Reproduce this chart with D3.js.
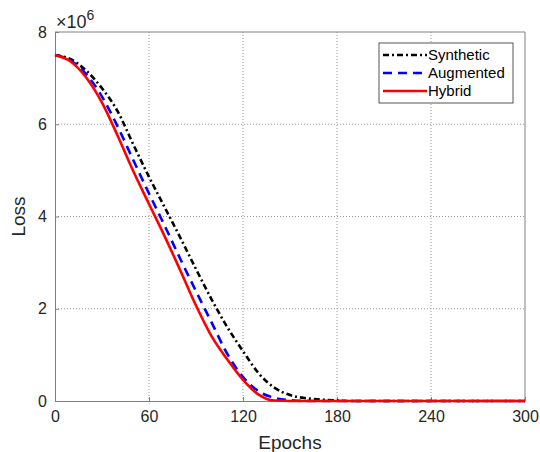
<!DOCTYPE html>
<html>
<head>
<meta charset="utf-8">
<script src="https://cdn.jsdelivr.net/npm/d3@7"></script>
<style>
  body { margin: 0; background: #fff; }
  text { font-family: "Liberation Sans", Arial, sans-serif; }
</style>
</head>
<body>
<div id="chart"></div>
<script>
// epochs sampled every 10
const epochs = d3.range(0, 301, 10);
const synthetic = [7.50, 7.41, 7.16, 6.78, 6.28, 5.56, 4.86, 4.20, 3.54, 2.86, 2.20, 1.60, 1.08, 0.60, 0.29, 0.13, 0.06, 0.03, 0.01, 0, 0, 0, 0, 0, 0, 0, 0, 0, 0, 0, 0];
const augmented = [7.50, 7.38, 7.08, 6.60, 5.95, 5.22, 4.50, 3.80, 3.08, 2.38, 1.70, 1.02, 0.52, 0.21, 0.07, 0.02, 0, 0, 0, 0, 0, 0, 0, 0, 0, 0, 0, 0, 0, 0, 0];
const hybrid = [7.50, 7.36, 7.01, 6.47, 5.75, 4.98, 4.27, 3.57, 2.83, 2.07, 1.40, 0.90, 0.46, 0.14, 0.01, 0, 0, 0, 0, 0, 0, 0, 0, 0, 0, 0, 0, 0, 0, 0, 0];
const xTicks = [0, 60, 120, 180, 240, 300];
const yTicks = [0, 2, 4, 6, 8];

const series = [
    {name: "Synthetic", values: synthetic, color: "#000000", dash: "6,3,2,3"},
    {name: "Augmented", values: augmented, color: "#0000ff", dash: "9,6"},
    {name: "Hybrid", values: hybrid, color: "#ff0000", dash: null}
];

const margin = {top: 32, right: 15, bottom: 51, left: 55},
    width = 540 - margin.left - margin.right,
    height = 452 - margin.top - margin.bottom;

const svg = d3.select("#chart")
    .append("svg")
    .attr("width", 540)
    .attr("height", 452)
    .append("g")
    .attr("transform", `translate(${margin.left},${margin.top})`);

const x = d3.scaleLinear().domain([0, 300]).range([0, width]);
const y = d3.scaleLinear().domain([0, 8]).range([height, 0]);

// grid
svg.append("g")
    .selectAll("line")
    .data(xTicks.slice(1, -1))
    .enter()
    .append("line")
    .attr("x1", d => x(d)).attr("x2", d => x(d))
    .attr("y1", 0).attr("y2", height)
    .attr("stroke", "#9a9a9a")
    .attr("stroke-width", 1)
    .attr("stroke-dasharray", "1,2");

svg.append("g")
    .selectAll("line")
    .data(yTicks.slice(1, -1))
    .enter()
    .append("line")
    .attr("x1", 0).attr("x2", width)
    .attr("y1", d => y(d)).attr("y2", d => y(d))
    .attr("stroke", "#9a9a9a")
    .attr("stroke-width", 1)
    .attr("stroke-dasharray", "1,2");

// axes
const xAxis = svg.append("g")
    .attr("transform", `translate(0,${height})`)
    .call(d3.axisBottom(x).tickValues(xTicks).tickSizeInner(-4).tickSizeOuter(0).tickPadding(10));
const yAxis = svg.append("g")
    .call(d3.axisLeft(y).tickValues(yTicks).tickSizeInner(-4).tickSizeOuter(0).tickPadding(8));

[xAxis, yAxis].forEach(a => {
    a.select(".domain").attr("stroke", "#808080");
    a.selectAll(".tick line").attr("stroke", "#808080");
    a.selectAll(".tick text")
        .style("font-size", "16px")
        .style("font-family", "Liberation Sans, Arial, sans-serif")
        .attr("fill", "#262626");
});

// top & right box edges
svg.append("line").attr("x1", 0).attr("x2", width).attr("y1", 0).attr("y2", 0).attr("stroke", "#808080");
svg.append("line").attr("x1", width).attr("x2", width).attr("y1", 0).attr("y2", height).attr("stroke", "#808080");

// exponent label
const expo = svg.append("text")
    .attr("x", 1)
    .attr("y", -4)
    .style("font-size", "18px")
    .attr("fill", "#262626");
expo.append("tspan").text("×10");
expo.append("tspan").attr("dy", -8).style("font-size", "14px").text("6");

// lines
const line = d3.line()
    .x((d, i) => x(epochs[i]))
    .y(d => y(d))
    .curve(d3.curveMonotoneX);

series.forEach(s => {
    svg.append("path")
        .datum(s.values)
        .attr("fill", "none")
        .attr("stroke", s.color)
        .attr("stroke-width", 2.6)
        .attr("stroke-dasharray", s.dash)
        .attr("d", line);
});

// axis titles
svg.append("text")
    .attr("text-anchor", "middle")
    .attr("x", width / 2)
    .attr("y", height + 48)
    .style("font-size", "19px")
    .attr("fill", "#262626")
    .text("Epochs");

svg.append("text")
    .attr("text-anchor", "middle")
    .attr("transform", "rotate(-90)")
    .attr("x", -height / 2)
    .attr("y", -30)
    .style("font-size", "19px")
    .attr("fill", "#262626")
    .text("Loss");

// legend
const legend = svg.append("g")
    .attr("transform", `translate(${379 - margin.left}, ${43 - margin.top})`);

legend.append("rect")
    .attr("width", 134)
    .attr("height", 60)
    .attr("fill", "#fff")
    .attr("stroke", "#555");

series.forEach((s, i) => {
    const g = legend.append("g")
        .attr("transform", `translate(0, ${12 + i * 18})`);
    g.append("line")
        .attr("x1", 4).attr("x2", 48)
        .attr("y1", 0).attr("y2", 0)
        .attr("stroke", s.color)
        .attr("stroke-width", 2.6)
        .attr("stroke-dasharray", s.dash);
    g.append("text")
        .attr("x", 49)
        .attr("y", 5)
        .style("font-size", "15px")
        .attr("fill", "#000")
        .text(s.name);
});
</script>
</body>
</html>
